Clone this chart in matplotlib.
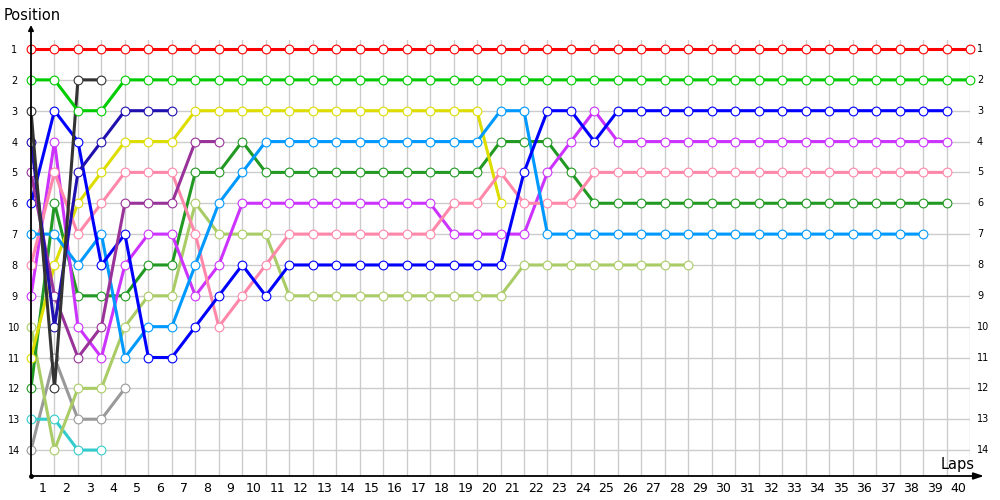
import matplotlib
matplotlib.use("Agg")
import matplotlib.pyplot as plt
from matplotlib.transforms import blended_transform_factory

# ---- data: position of each driver at each lap (lap 0 = start) ----
laps_total = 40
pos_labels = list(range(1, 15))

red = [1, 1, 1, 1, 1, 1, 1, 1, 1, 1, 1, 1, 1, 1, 1, 1, 1, 1, 1, 1, 1,
       1, 1, 1, 1, 1, 1, 1, 1, 1, 1, 1, 1, 1, 1, 1, 1, 1, 1, 1, 1]
green = [2, 2, 3, 3, 2, 2, 2, 2, 2, 2, 2, 2, 2, 2, 2, 2, 2, 2, 2, 2, 2,
         2, 2, 2, 2, 2, 2, 2, 2, 2, 2, 2, 2, 2, 2, 2, 2, 2, 2, 2, 2]
black = [3, 12, 2, 2]
navy = [4, 10, 5, 4, 3, 3, 3]
dpurple = [5, 9, 11, 10, 6, 6, 6, 4, 4]
blue = [6, 3, 4, 8, 7, 11, 11, 10, 9, 8, 9, 8, 8, 8, 8, 8, 8, 8, 8, 8,
        8, 5, 3, 3, 4, 3, 3, 3, 3, 3, 3, 3, 3, 3, 3, 3, 3, 3, 3, 3]
lblue = [7, 7, 8, 7, 11, 10, 10, 8, 6, 5, 4, 4, 4, 4, 4, 4, 4, 4, 4, 4,
         3, 3, 7, 7, 7, 7, 7, 7, 7, 7, 7, 7, 7, 7, 7, 7, 7, 7, 7]
pink = [8, 5, 7, 6, 5, 5, 5, 7, 10, 9, 8, 7, 7, 7, 7, 7, 7, 7, 6, 6,
        5, 6, 6, 6, 5, 5, 5, 5, 5, 5, 5, 5, 5, 5, 5, 5, 5, 5, 5, 5]
magenta = [9, 4, 10, 11, 8, 7, 7, 9, 8, 6, 6, 6, 6, 6, 6, 6, 6, 6, 7, 7,
           7, 7, 5, 4, 3, 4, 4, 4, 4, 4, 4, 4, 4, 4, 4, 4, 4, 4, 4, 4]
lgreen = [10, 14, 12, 12, 10, 9, 9, 6, 7, 7, 7, 9, 9, 9, 9, 9, 9, 9, 9, 9,
          9, 8, 8, 8, 8, 8, 8, 8, 8]
yellow = [11, 8, 6, 5, 4, 4, 4, 3, 3, 3, 3, 3, 3, 3, 3, 3, 3, 3, 3, 3, 6]
dgreen = [12, 6, 9, 9, 9, 8, 8, 5, 5, 4, 5, 5, 5, 5, 5, 5, 5, 5, 5, 5,
          4, 4, 4, 5, 6, 6, 6, 6, 6, 6, 6, 6, 6, 6, 6, 6, 6, 6, 6, 6]
cyan = [13, 13, 14, 14]
gray = [14, 11, 13, 13, 12]

series = [
    (gray, "#999999"),
    (cyan, "#33cccc"),
    (lgreen, "#aacc66"),
    (dgreen, "#229922"),
    (yellow, "#dddd00"),
    (magenta, "#cc33ff"),
    (pink, "#ff88aa"),
    (lblue, "#0099ff"),
    (blue, "#0000ff"),
    (dpurple, "#993399"),
    (navy, "#2010b0"),
    (black, "#333333"),
    (green, "#00cc00"),
    (red, "#ff0000"),
]

W, H = 1000, 500
fig = plt.figure(figsize=(W / 100, H / 100), dpi=100)
L, R, T, B = 31, 970, 40, 476
ax = fig.add_axes([L / W, 1 - B / H, (R - L) / W, (B - T) / H])

ymin_top = 1 - (49 - T) / 30.85
ymax_bot = 1 + (B - 49) / 30.85
ax.set_xlim(0, laps_total)
ax.set_ylim(ymax_bot, ymin_top)

# grid
for i in range(1, laps_total + 1):
    ax.axvline(i, color="#cccccc", lw=1.0, zorder=0)
for p in pos_labels:
    ax.axhline(p, color="#cccccc", lw=1.0, zorder=0)

for vals, col in series:
    x = list(range(len(vals)))
    ax.plot(x, vals, color=col, lw=2.2, marker="o", ms=6.3, mfc="white",
            mec=col, mew=0.8, solid_joinstyle="miter", clip_on=False, zorder=3)

# ticks
ax.set_xticks([i - 0.5 for i in range(1, laps_total + 1)])
ax.set_xticklabels([str(i) for i in range(1, laps_total + 1)], fontsize=9)
ax.set_yticks(pos_labels)
ax.set_yticklabels([str(p) for p in pos_labels], fontsize=7)
ax.tick_params(axis="x", length=0, pad=4)
ax.tick_params(axis="y", length=0, pad=12)
for lab in ax.get_yticklabels():
    lab.set_horizontalalignment("center")

# right-hand position labels
tr = blended_transform_factory(ax.transAxes, ax.transData)
for p in pos_labels:
    ax.text(1 + 7 / (R - L), p, str(p), fontsize=7, ha="left", va="center",
            transform=tr, clip_on=False)

for s in ["top", "right", "left", "bottom"]:
    ax.spines[s].set_visible(False)

# axis lines with arrows
ax.annotate("", xy=(0, 1 + 15 / (B - T)), xytext=(0, 0), xycoords="axes fraction",
            textcoords="axes fraction",
            arrowprops=dict(arrowstyle="-|>,head_length=0.3,head_width=0.15",
                            color="black", lw=1.3, shrinkA=0, shrinkB=0))
ax.annotate("", xy=(1 + 14 / (R - L), 0), xytext=(0, 0), xycoords="axes fraction",
            textcoords="axes fraction",
            arrowprops=dict(arrowstyle="-|>,head_length=0.6,head_width=0.2",
                            color="black", lw=1.3, shrinkA=0, shrinkB=0))
ax.plot([0], [0], "o", color="black", ms=2.5, transform=ax.transAxes, clip_on=False)

fig.text(4 / W, 1 - 15 / H, "Position", fontsize=10.5, ha="left", va="center")
fig.text(975 / W, 1 - 465 / H, "Laps", fontsize=10.5, ha="right", va="center")

fig.savefig("out.png", dpi=100)
